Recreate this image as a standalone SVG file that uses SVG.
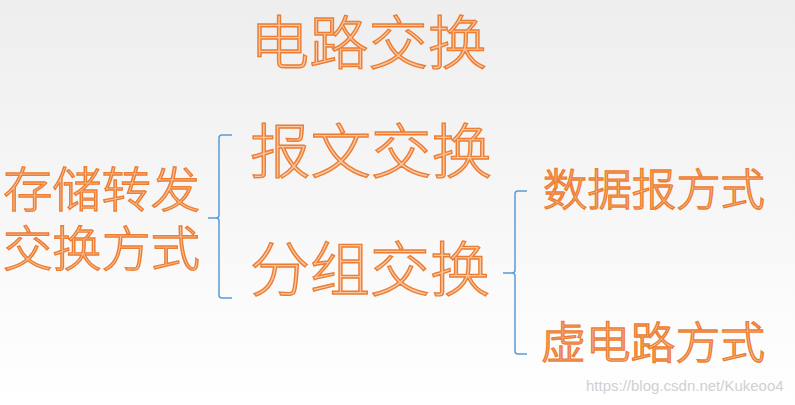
<svg xmlns="http://www.w3.org/2000/svg" width="795" height="405" viewBox="0 0 795 405">
<defs>
<linearGradient id="bg" x1="0" y1="0" x2="0" y2="1">
<stop offset="0" stop-color="#eeeeee"/>
<stop offset="1" stop-color="#ffffff"/>
</linearGradient>
<style>
.t{font-family:"Noto Sans CJK SC","Noto Sans",sans-serif;font-weight:300;fill:#f8c6a4;stroke:#ed7d31;stroke-width:1.4}
.b{fill:none;stroke:#5b9bd5;stroke-width:1.5}
.wm{font-family:"Liberation Sans",sans-serif;font-size:15px;fill:#d0d0d0}
</style>
</defs>
<rect width="795" height="405" fill="url(#bg)"/>
<g id="n-circuit"><text class="t" x="250" y="64" font-size="58" textLength="237" lengthAdjust="spacingAndGlyphs">电路交换</text></g>
<g id="n-message"><text class="t" x="250" y="173" font-size="59" textLength="242" lengthAdjust="spacingAndGlyphs">报文交换</text></g>
<g id="n-packet"><text class="t" x="250" y="291" font-size="59" textLength="240" lengthAdjust="spacingAndGlyphs">分组交换</text></g>
<g id="n-store"><text class="t" x="3" y="207" font-size="48" textLength="197" lengthAdjust="spacingAndGlyphs">存储转发</text><text class="t" x="3" y="266" font-size="48" textLength="197" lengthAdjust="spacingAndGlyphs">交换方式</text></g>
<g id="n-datagram"><text class="t" x="543" y="206" font-size="44" textLength="222" lengthAdjust="spacingAndGlyphs">数据报方式</text></g>
<g id="n-vc"><text class="t" x="541" y="359" font-size="44" textLength="224" lengthAdjust="spacingAndGlyphs">虚电路方式</text></g>
<g id="connectors">
<path class="b" d="M232 135 H222 Q219 135 219 138 V215 Q219 218 216 218 H208 H216 Q219 218 219 221 V295 Q219 298 222 298 H232"/>
<path class="b" d="M527 191 H518 Q515 191 515 194 V270 Q515 273 512 273 H503 H512 Q515 273 515 276 V351 Q515 354 518 354 H527"/>
</g>
<text class="wm" x="586" y="391">https://blog.csdn.net/Kukeoo4</text>
</svg>
